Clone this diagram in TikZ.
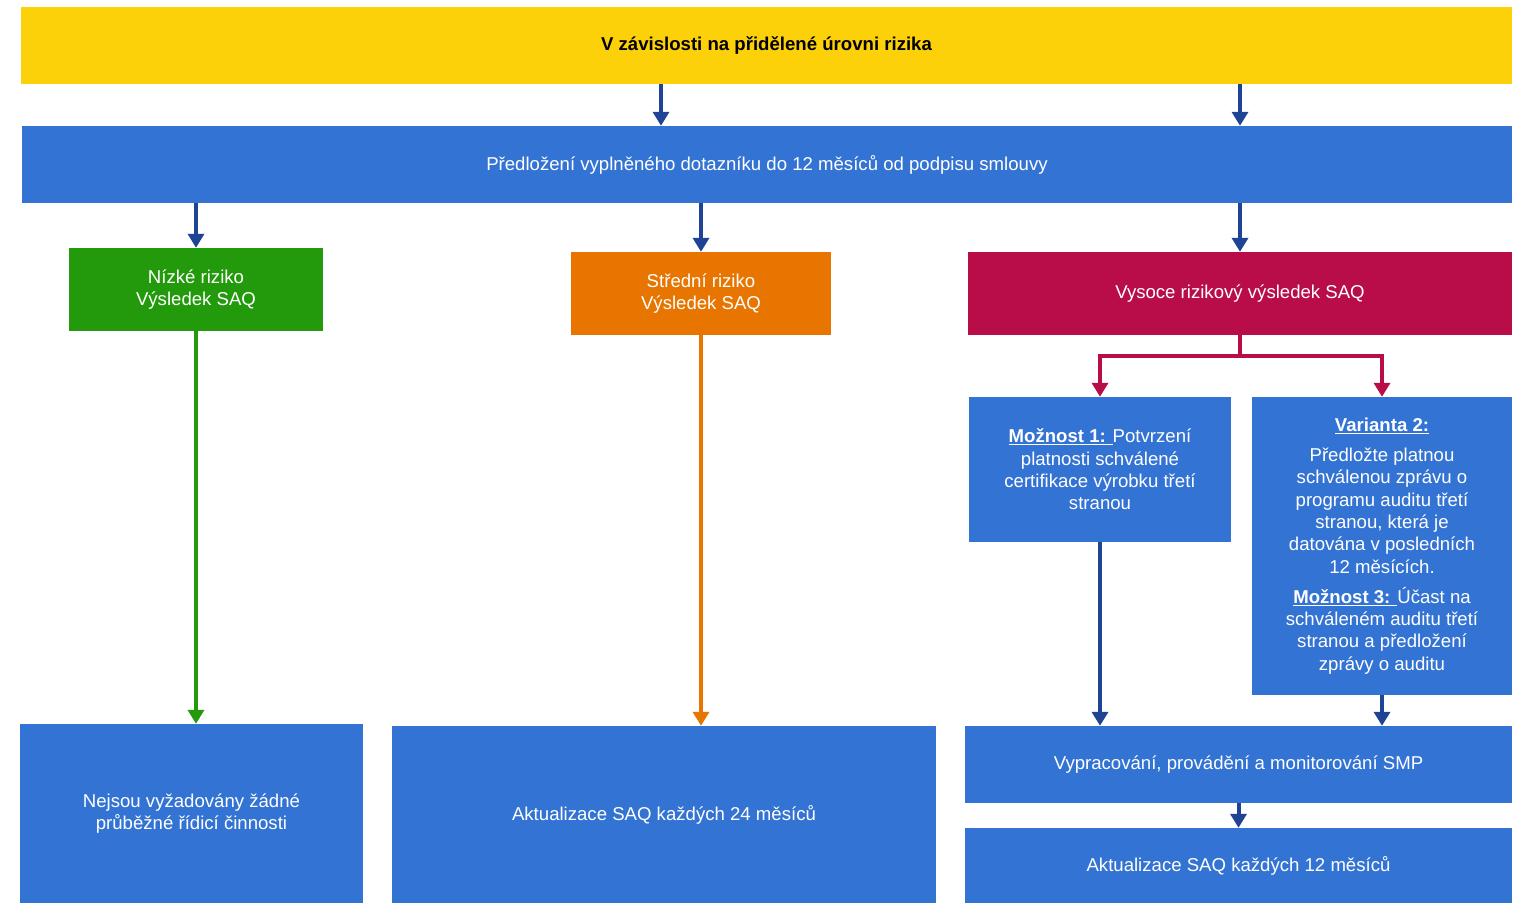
\documentclass[tikz,border=0pt]{standalone}
\usepackage{fontspec}
\setmainfont{Liberation Sans}
\usetikzlibrary{arrows.meta}

\definecolor{saqyellow}{RGB}{253,209,9}
\definecolor{saqblue}{RGB}{51,115,211}
\definecolor{saqnavy}{RGB}{31,68,150}
\definecolor{saqgreen}{RGB}{35,154,11}
\definecolor{saqorange}{RGB}{232,117,0}
\definecolor{saqred}{RGB}{185,13,74}

\tikzset{
  box/.style={fill=saqblue, text=white, inner sep=0pt, align=center,
    font=\fontsize{18.6pt}{22.4pt}\selectfont},
  flow/.style={line width=4pt, saqnavy, -{Triangle[width=16pt,length=14pt]}},
}

\begin{document}
\begin{tikzpicture}[x=1pt, y=-1pt]
  \useasboundingbox (0,0) rectangle (1522,903);
  % top band and questionnaire
  \node[box, fill=saqyellow, text=black, font=\fontsize{18.6pt}{22.4pt}\selectfont\bfseries,
    minimum width=1491pt, minimum height=77pt] (basis) at (766.5,45.5) {V závislosti na přidělené úrovni rizika};
  \node[box, minimum width=1490pt, minimum height=77pt] (submit) at (767,164.5)
    {Předložení vyplněného dotazníku do 12 měsíců od podpisu smlouvy};
  % risk levels
  \node[box, fill=saqgreen, minimum width=254pt, minimum height=83pt] (low) at (196,289.5) {Nízké riziko\\Výsledek SAQ};
  \node[box, fill=saqorange, minimum width=260pt, minimum height=83pt] (mid) at (701,293.5) {Střední riziko\\Výsledek SAQ};
  \node[box, fill=saqred, minimum width=544pt, minimum height=83pt] (high) at (1240,293.5) {Vysoce rizikový výsledek SAQ};
  % high risk options
  \node[box, minimum width=262pt, minimum height=145pt] (opt1) at (1100,469.5)
    {\underline{\textbf{Možnost 1:} }Potvrzení\\platnosti schválené\\certifikace výrobku třetí\\stranou};
  \node[box, minimum width=260pt, minimum height=298pt] (opt2) at (1382,546)
    {\underline{\textbf{Varianta 2:}}\\[7.5pt]
     Předložte platnou\\schválenou zprávu o\\programu auditu třetí\\stranou, která je\\datována v posledních\\12 měsících.\\[7.5pt]
     \underline{\textbf{Možnost 3:} }Účast na\\schváleném auditu třetí\\stranou a předložení\\zprávy o auditu};
  % outcomes
  \node[box, minimum width=343pt, minimum height=179pt] (none) at (191.5,813.5) {Nejsou vyžadovány žádné\\průběžné řídicí činnosti};
  \node[box, minimum width=544pt, minimum height=177pt] (upd24) at (664,814.5) {Aktualizace SAQ každých 24 měsíců};
  \node[box, minimum width=547pt, minimum height=77pt] (smp) at (1238.5,764.5) {Vypracování, provádění a monitorování SMP};
  \node[box, minimum width=547pt, minimum height=75pt] (upd12) at (1238.5,865.5) {Aktualizace SAQ každých 12 měsíců};

  % connectors
  \coordinate (left) at (661,0);
  \coordinate (split) at (1240,356);
  \draw[flow] (basis.south -| left) -- (submit.north -| left);
  \draw[flow] (basis.south -| high) -- (submit.north -| high);
  \draw[flow] (submit.south -| low) -- (low.north);
  \draw[flow] (submit.south -| mid) -- (mid.north);
  \draw[flow] (submit.south -| high) -- (high.north);
  \draw[flow, saqgreen] (low.south) -- (low.south |- none.north);
  \draw[flow, saqorange] (mid.south) -- (mid.south |- upd24.north);
  \draw[flow, saqred] (high.south) -- (split) -| (opt1.north);
  \draw[flow, saqred] (split) -| (opt2.north);
  \draw[flow] (opt1.south) -- (opt1.south |- smp.north);
  \draw[flow] (opt2.south) -- (opt2.south |- smp.north);
  \draw[flow] (smp.south) -- (upd12.north);
\end{tikzpicture}
\end{document}
